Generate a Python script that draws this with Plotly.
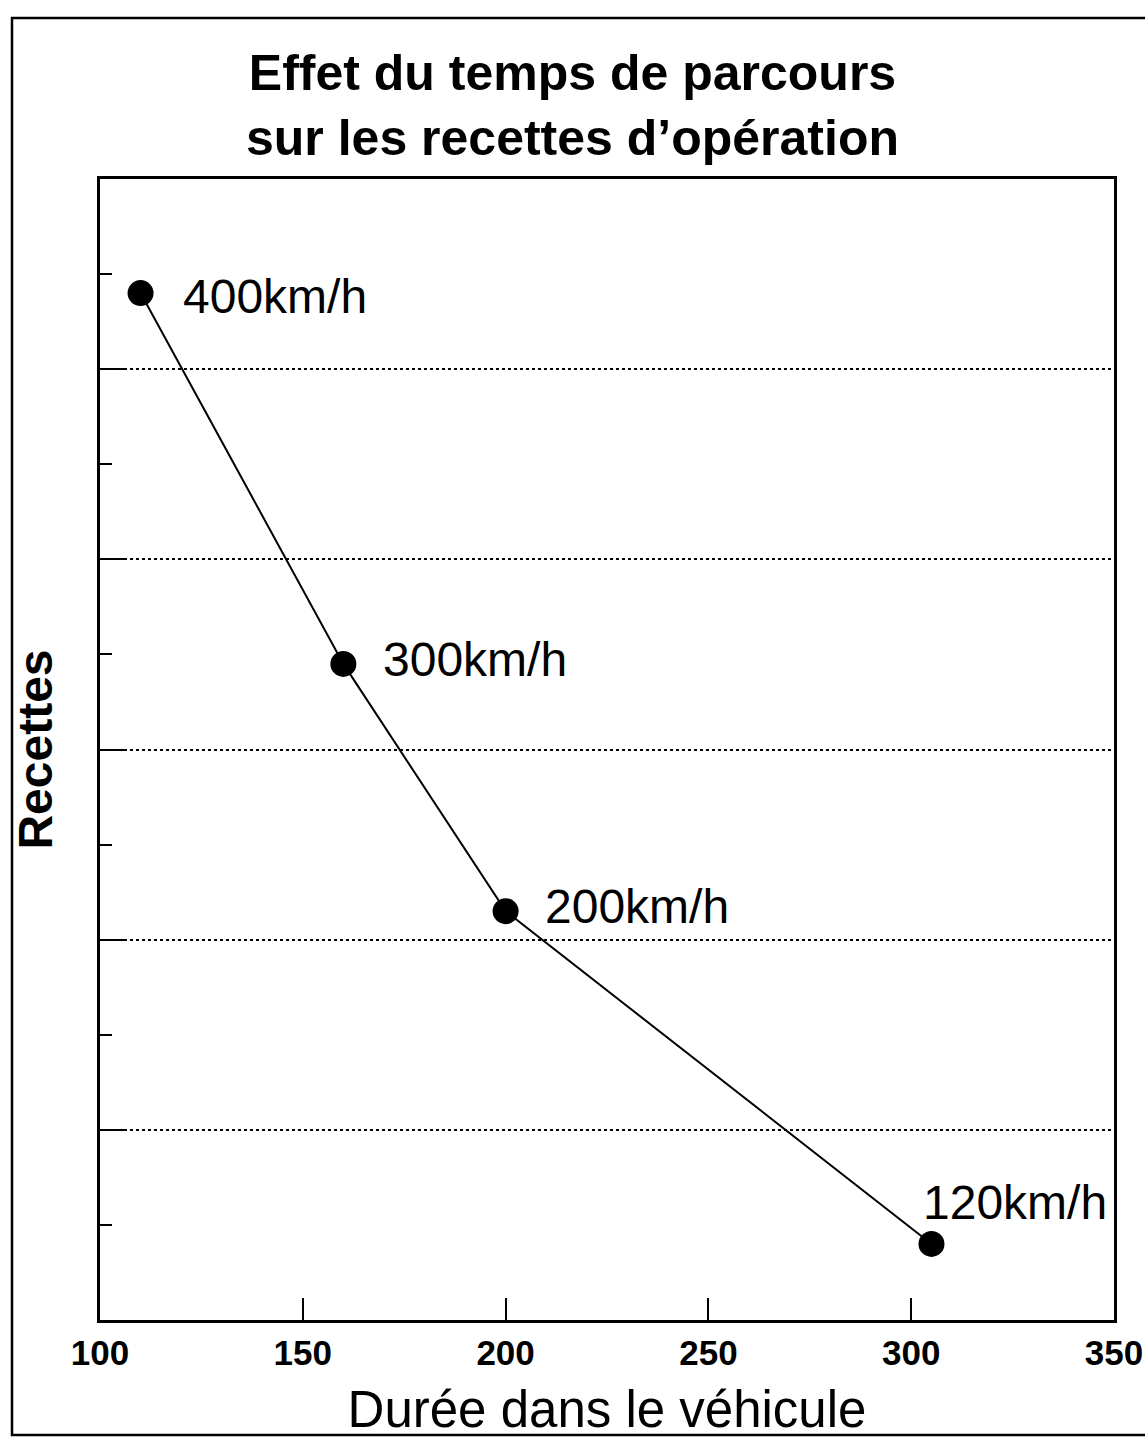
import plotly.graph_objects as go

# Travel time in the vehicle vs. operating revenue, by train speed
speeds = ["400km/h", "300km/h", "200km/h", "120km/h"]
duree = [110, 160, 200, 305]
recettes = [10.8, 6.9, 4.3, 0.8]

# label offsets (pixels) relative to each point
label_dx = [40, 38, 37, -10]
label_dy = [-3, 4, 5, 41]

W, H = 1145, 1438
ML, MR, MT, MB = 100, 31, 179, 118
PW, PH = W - ML - MR, H - MT - MB

FONT = "Liberation Sans, Arial, Helvetica, sans-serif"

fig = go.Figure()
fig.add_trace(go.Scatter(
    x=duree, y=recettes, mode="lines+markers",
    line=dict(color="black", width=2),
    marker=dict(color="black", size=26),
    hoverinfo="skip", showlegend=False,
))

for s, xv, yv, dx, dy in zip(speeds, duree, recettes, label_dx, label_dy):
    fig.add_annotation(
        x=xv, y=yv, text=s, showarrow=False,
        xanchor="left", yanchor="middle", xshift=dx, yshift=dy,
        font=dict(family=FONT, size=48, color="black"),
    )

# outer frame around the whole figure
fig.add_shape(
    type="rect", xref="paper", yref="paper",
    x0=(12 - ML) / PW, x1=(W + 20 - ML) / PW,
    y0=-(1435 - (MT + PH)) / PH, y1=1 + (MT - 18) / PH,
    line=dict(color="black", width=2.5), fillcolor="rgba(0,0,0,0)",
    layer="below",
)

fig.update_layout(
    width=W, height=H,
    margin=dict(l=ML, r=MR, t=MT, b=MB, autoexpand=False),
    paper_bgcolor="white", plot_bgcolor="white",
    font=dict(family=FONT, color="black"),
    title=dict(
        text="<b>Effet du temps de parcours<br>sur les recettes d\u2019opération</b>",
        x=0.5, xanchor="center", xref="container",
        y=1 - 90 / H, yanchor="top", yref="container",
        font=dict(family=FONT, size=50, color="black"),
    ),
    xaxis=dict(
        range=[100, 350], dtick=50, tick0=100,
        ticks="inside", ticklen=22, tickwidth=2, tickcolor="black",
        showgrid=False, zeroline=False,
        showline=True, linecolor="black", linewidth=3, mirror=True,
        tickfont=dict(family=FONT, size=35, color="black", weight="bold"),
        title=dict(text="Durée dans le véhicule", standoff=22,
                   font=dict(family=FONT, size=51, color="black")),
    ),
    yaxis=dict(
        range=[0, 12], dtick=2, tick0=0,
        ticks="inside", ticklen=24, tickwidth=2, tickcolor="black",
        showticklabels=False,
        showgrid=True, gridcolor="black", gridwidth=1.5, griddash="dot",
        zeroline=False,
        showline=True, linecolor="black", linewidth=3, mirror=True,
        minor=dict(dtick=1, ticks="inside", ticklen=12, tickwidth=2,
                   tickcolor="black", showgrid=False),
        title=dict(text="<b>Recettes</b>", standoff=30,
                   font=dict(family=FONT, size=48, color="black")),
    ),
)

fig.write_html("out.html")
